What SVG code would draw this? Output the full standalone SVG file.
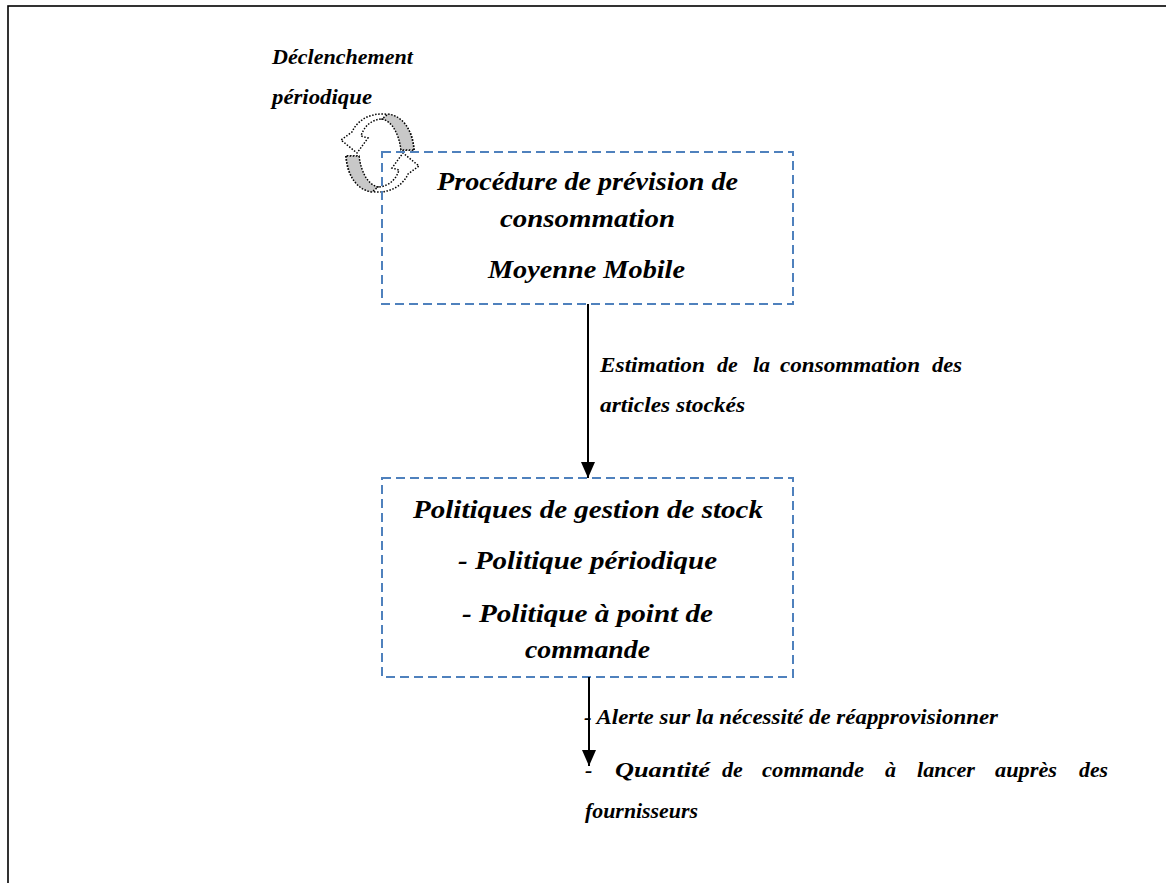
<svg xmlns="http://www.w3.org/2000/svg" width="1166" height="883" viewBox="0 0 1166 883">
<style>
  .frame{fill:none;stroke:#000;stroke-width:1.6}
  .box{fill:none;stroke:#4F81BD;stroke-width:2;stroke-dasharray:9 5}
  .big{font-family:"Liberation Serif","Times New Roman",serif;font-weight:bold;font-style:italic;font-size:26px;fill:#000}
  .sm{font-family:"Liberation Serif","Times New Roman",serif;font-weight:bold;font-style:italic;font-size:22px;fill:#000}
  .dot{fill:none;stroke:#000;stroke-width:1.5;stroke-dasharray:1.5 1.6}
  .gray{fill:#C8C8C8;stroke:#000;stroke-width:1.5;stroke-dasharray:1.5 1.6}
  .conn{stroke:#000;stroke-width:2;fill:none}
</style>
<defs>
  <marker id="arr" viewBox="0 0 16 14" refX="16" refY="7" markerWidth="16" markerHeight="14" markerUnits="userSpaceOnUse" orient="auto">
    <path d="M0,0 L16,7 L0,14 Z" fill="#000"/>
  </marker>
</defs>
<rect width="1166" height="883" fill="#fff"/>
<rect class="frame" x="8" y="6" width="1170" height="900"/>

<g id="trigger">
  <text class="sm" x="272" y="64" textLength="141" lengthAdjust="spacingAndGlyphs">Déclenchement</text>
  <text class="sm" x="272" y="104" textLength="100" lengthAdjust="spacingAndGlyphs">périodique</text>
  <g id="cycle-icon">
    <path class="dot" d="M414 150 C413 128 400 114 382 114 C368 114 357 121 352 132 L341 140 L357 153 L368 138 L361 136 C364 126 372 119 383 119 C393 120 400 133 401 150 Z"/>
    <path class="gray" d="M414 150 C412 128 402 116 388 114 L382 119 C392 121 399 134 401 150 Z"/>
    <path class="dot" d="M346 156 C347 178 360 192 378 192 C392 192 403 185 408 174 L419 166 L403 153 L392 168 L399 170 C396 180 388 187 377 187 C367 186 360 173 359 156 Z"/>
    <path class="gray" d="M346 156 C348 178 358 190 372 192 L378 187 C368 185 361 172 359 156 Z"/>
  </g>
</g>

<g id="node-prevision">
  <rect class="box" x="382" y="152" width="411" height="152"/>
  <text class="big" x="437" y="190" textLength="301" lengthAdjust="spacingAndGlyphs">Procédure de prévision de</text>
  <text class="big" x="500" y="227" textLength="175" lengthAdjust="spacingAndGlyphs">consommation</text>
  <text class="big" x="488" y="278" textLength="197" lengthAdjust="spacingAndGlyphs">Moyenne Mobile</text>
</g>

<g id="node-politiques">
  <rect class="box" x="382" y="478" width="411" height="199"/>
  <text class="big" x="413" y="518" textLength="350" lengthAdjust="spacingAndGlyphs">Politiques de gestion de stock</text>
  <text class="big" x="458" y="569" textLength="259" lengthAdjust="spacingAndGlyphs">- Politique périodique</text>
  <text class="big" x="462" y="622" textLength="251" lengthAdjust="spacingAndGlyphs">- Politique à point de</text>
  <text class="big" x="525" y="658" textLength="125" lengthAdjust="spacingAndGlyphs">commande</text>
</g>

<g id="edge-labels">
  <g id="label-estimation">
    <text class="sm" x="600" y="372" textLength="105" lengthAdjust="spacingAndGlyphs">Estimation</text>
    <text class="sm" x="717" y="372">de</text>
    <text class="sm" x="753" y="372">la</text>
    <text class="sm" x="780" y="372" textLength="140" lengthAdjust="spacingAndGlyphs">consommation</text>
    <text class="sm" x="932" y="372" textLength="30" lengthAdjust="spacingAndGlyphs">des</text>
    <text class="sm" x="600" y="412" textLength="145" lengthAdjust="spacingAndGlyphs">articles stockés</text>
  </g>
  <g id="label-sortie">
    <text class="sm" x="584" y="724" textLength="414" lengthAdjust="spacingAndGlyphs">- Alerte sur la nécessité de réapprovisionner</text>
    <text class="sm" x="585" y="777">-</text>
    <text class="sm" x="615" y="777" textLength="95" lengthAdjust="spacingAndGlyphs">Quantité</text>
    <text class="sm" x="722" y="777">de</text>
    <text class="sm" x="762" y="777" textLength="102" lengthAdjust="spacingAndGlyphs">commande</text>
    <text class="sm" x="885" y="777">à</text>
    <text class="sm" x="917" y="777" textLength="58" lengthAdjust="spacingAndGlyphs">lancer</text>
    <text class="sm" x="995" y="777" textLength="62" lengthAdjust="spacingAndGlyphs">auprès</text>
    <text class="sm" x="1079" y="777" textLength="29" lengthAdjust="spacingAndGlyphs">des</text>
    <text class="sm" x="585" y="818" textLength="113" lengthAdjust="spacingAndGlyphs">fournisseurs</text>
  </g>
</g>

<g id="connectors">
  <line class="conn" x1="588" y1="304" x2="588" y2="478" marker-end="url(#arr)"/>
  <line class="conn" x1="589" y1="677" x2="589" y2="766" marker-end="url(#arr)"/>
</g>
</svg>
